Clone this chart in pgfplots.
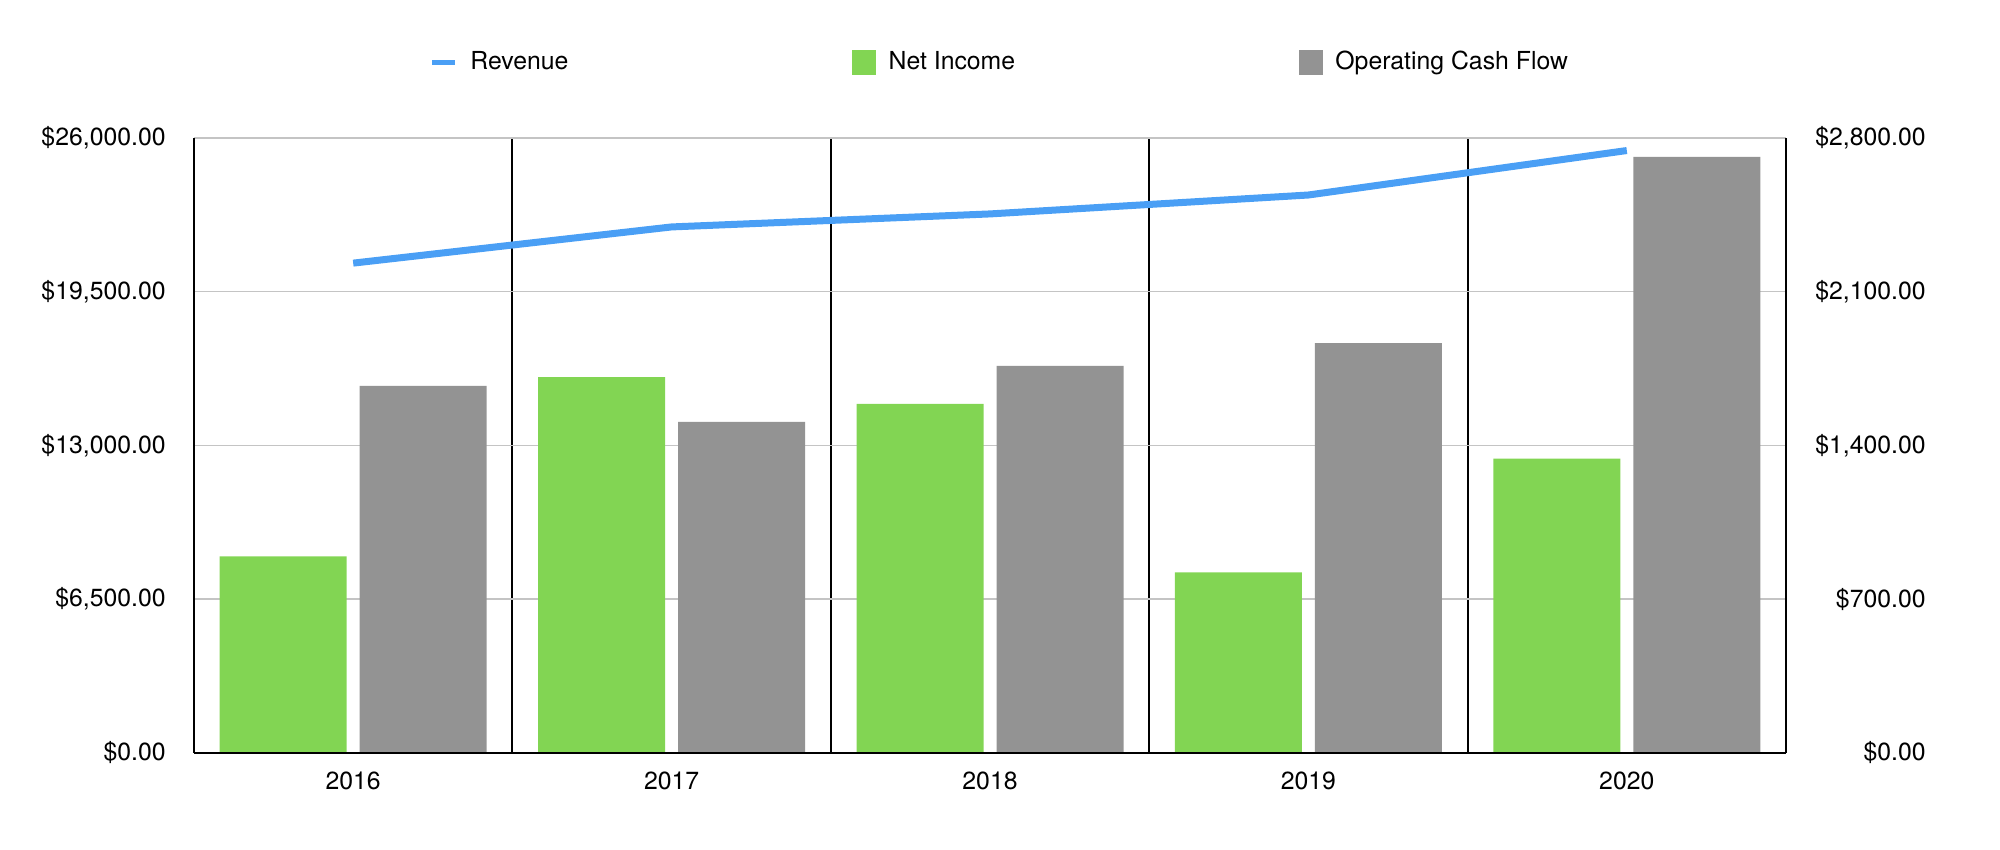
\documentclass[border=0pt]{standalone}
\usepackage{fontspec}
\setmainfont{TeX Gyre Heros}
\usepackage{pgfplots}
\pgfplotsset{compat=1.18}
\definecolor{revblue}{HTML}{4A9FF5}
\definecolor{nigreen}{HTML}{82D553}
\definecolor{ocfgray}{HTML}{939393}
\definecolor{gridgray}{HTML}{C4C4C4}
\newcommand{\lblfont}{\fontsize{12.4}{15}\selectfont}
\begin{document}
\begin{tikzpicture}
\path[use as bounding box] (0,0) rectangle (1000pt,425pt);
% bars, right axis
\begin{axis}[
  at={(97pt,48.5pt)}, anchor=south west,
  scale only axis, width=796pt, height=307.5pt,
  xmin=-0.5, xmax=4.5, ymin=0, ymax=2800,
  axis x line*=bottom, axis y line*=right,
  axis line style={-, black, line width=1.2pt},
  xtick={0,1,2,3,4}, xticklabels={2016,2017,2018,2019,2020},
  minor xtick={0.5,1.5,2.5,3.5},
  xminorgrids, minor x grid style={black, line width=1pt},
  ytick={0,700,1400,2100,2800},
  yticklabels={\$0.00,\$700.00,{\$1,400.00},{\$2,100.00},{\$2,800.00}},
  scaled y ticks=false,
  ymajorgrids, major y grid style={gridgray, line width=0.75pt},
  major tick length=0pt, minor tick length=0pt,
  tick label style={font=\lblfont, inner sep=0pt},
  yticklabel style={anchor=east, xshift=70pt},
  xticklabel style={anchor=north, yshift=-9.5pt},
  /pgf/number format/assume math mode=true,
]
\addplot[ybar, bar width=63.5pt, bar shift=-35pt, fill=nigreen, draw=none]
  coordinates {(0,895) (1,1711) (2,1589) (3,822) (4,1340)};
\addplot[ybar, bar width=63.5pt, bar shift=35pt, fill=ocfgray, draw=none]
  coordinates {(0,1672) (1,1507) (2,1762) (3,1866) (4,2714)};
\end{axis}
% revenue, left axis
\begin{axis}[
  at={(97pt,48.5pt)}, anchor=south west,
  scale only axis, width=796pt, height=307.5pt,
  xmin=-0.5, xmax=4.5, ymin=0, ymax=26000,
  axis x line*=bottom, axis y line*=left,
  axis line style={-, black, line width=1.2pt},
  xtick=\empty,
  ytick={0,6500,13000,19500,26000},
  yticklabels={\$0.00,{\$6,500.00},{\$13,000.00},{\$19,500.00},{\$26,000.00}},
  scaled y ticks=false,
  major tick length=0pt,
  tick label style={font=\lblfont, inner sep=0pt},
  yticklabel style={anchor=east, xshift=-14pt},
  /pgf/number format/assume math mode=true,
  legend columns=3,
  legend cell align=left,
  legend style={at={(0.1482,1.1235)}, anchor=west, draw=none, fill=none,
    inner sep=0pt, outer sep=0pt, font=\lblfont,
    nodes={inner sep=0pt},
    /tikz/every odd column/.append style={column sep=6.2pt},
    /tikz/every even column/.append style={column sep=142pt}},
]
\addplot[revblue, line width=3.5pt, line join=round,
  legend image code/.code={\draw[revblue, line width=2.5pt] (0pt,0pt) -- (11.5pt,0pt);}]
  coordinates {(0,20710) (1,22240) (2,22790) (3,23590) (4,25470)};
\addlegendentry{Revenue}
\addlegendimage{legend image code/.code={\fill[nigreen] (0pt,-6pt) rectangle (11.5pt,6pt);}}
\addlegendentry{Net Income}
\addlegendimage{legend image code/.code={\fill[ocfgray] (0pt,-6pt) rectangle (11.5pt,6pt);}}
\addlegendentry{Operating Cash Flow}
\end{axis}
\end{tikzpicture}
\end{document}
